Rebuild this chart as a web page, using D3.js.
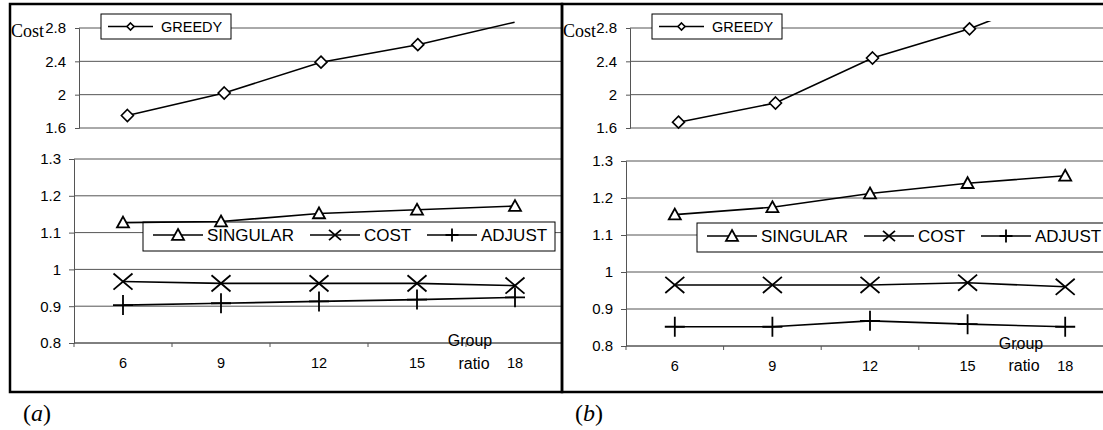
<!DOCTYPE html>
<meta charset="utf-8">
<script src="https://d3js.org/d3.v7.min.js"></script>
<style>
  body { margin: 0; background: #fff; }
  text { fill: #000; }
  .sans { font-family: "Liberation Sans", Arial, sans-serif; }
  .serif { font-family: "Liberation Serif", "Times New Roman", serif; }
</style>
<div id="chart"></div>
<script>
// values
var groupRatio = [6, 9, 12, 15, 18];

var greedyA   = [1.75, 2.02, 2.39, 2.6, 2.87];
var singularA = [1.127, 1.13, 1.152, 1.162, 1.172];
var costA     = [0.967, 0.962, 0.962, 0.962, 0.956];
var adjustA   = [0.903, 0.908, 0.913, 0.918, 0.924];

var greedyB   = [1.67, 1.9, 2.44, 2.79, 3.25];
var singularB = [1.155, 1.175, 1.212, 1.24, 1.26];
var costB     = [0.965, 0.965, 0.965, 0.971, 0.96];
var adjustB   = [0.852, 0.852, 0.868, 0.859, 0.852];

var topTicks = [1.6, 2, 2.4, 2.8];
var bottomTicks = [0.8, 0.9, 1, 1.1, 1.2, 1.3];
var panelLabels = ["a", "b"];

var W = 1103, H = 430;
var svg = d3.select("#chart").append("svg")
    .attr("width", W)
    .attr("height", H);

// marker shapes, s = size in px
function marker(type, s) {
  var h = s / 2;
  if (type == "diamond") return "M0," + (-h) + "L" + h + ",0L0," + h + "L" + (-h) + ",0Z";
  if (type == "triangle") return "M0," + (-h) + "L" + h + "," + (h * 0.8) + "L" + (-h) + "," + (h * 0.8) + "Z";
  if (type == "x") return "M" + (-h) + "," + (-h * 0.85) + "L" + h + "," + (h * 0.85) +
                          "M" + (-h) + "," + (h * 0.85) + "L" + h + "," + (-h * 0.85);
  return "M0," + (-h) + "V" + h + "M" + (-h) + ",0H" + h;
}

var panels = [
  { left: 10, right: 562, label: panelLabels[0],
    greedy: greedyA, series: [singularA, costA, adjustA],
    topX: [79, 563], botX: [74, 564], botY: [343, 159],
    greedyBox: 101, legendBox: [143, 555], legendY: 222,
    group: [470, 346], ratio: [474, 369], xLabelY: 368 },
  { left: 562, right: 1112, label: panelLabels[1],
    greedy: greedyB, series: [singularB, costB, adjustB],
    topX: [630, 1115], botX: [626, 1114], botY: [346, 161],
    greedyBox: 652, legendBox: [697, 1120], legendY: 223,
    group: [1021, 349], ratio: [1024, 371], xLabelY: 371 }
];

var seriesNames = ["SINGULAR", "COST", "ADJUST"];
var seriesMarkers = ["triangle", "x", "plus"];
var markerSize = { diamond: 12, triangle: 12, x: 19, plus: 20 };
var legendMarkerSize = { diamond: 7, triangle: 12, x: 12, plus: 13 };
var gridColor = "#555";

panels.forEach(function(p, pi) {
  var clipId = "clip" + pi;
  svg.append("clipPath").attr("id", clipId)
    .append("rect")
      .attr("x", p.left).attr("y", 4)
      .attr("width", p.right - p.left).attr("height", 388);

  var g = svg.append("g").attr("clip-path", "url(#" + clipId + ")");

  // ---------- top chart (GREEDY) ----------
  var xTop = d3.scaleBand().domain(groupRatio).range(p.topX);
  var yTop = d3.scaleLinear().domain([1.6, 2.8]).range([128, 28]);

  g.selectAll(".gridTop")
    .data(topTicks)
    .enter().append("line")
      .attr("x1", p.topX[0]).attr("x2", p.right)
      .attr("y1", d => yTop(d)).attr("y2", d => yTop(d))
      .attr("stroke", gridColor).attr("stroke-width", 1);

  var axTop = g.append("g")
      .attr("transform", "translate(" + p.topX[0] + ",0)")
      .call(d3.axisLeft(yTop).tickValues(topTicks).tickSize(4).tickPadding(9).tickFormat(d => d));
  axTop.attr("font-family", null);
  axTop.select(".domain").attr("stroke", gridColor);
  axTop.selectAll(".tick line").attr("stroke", gridColor);
  axTop.selectAll("text").attr("class", "sans").style("font-size", "15px");

  g.append("text")
      .attr("class", "serif")
      .attr("x", p.left + 1).attr("y", 37)
      .style("font-size", "18px")
      .text("Cost");

  var topClip = "clipTop" + pi;
  svg.append("clipPath").attr("id", topClip)
    .append("rect")
      .attr("x", p.topX[0]).attr("y", 21)
      .attr("width", p.right - p.topX[0]).attr("height", 120);

  var gTop = g.append("g").attr("clip-path", "url(#" + topClip + ")");
  var lineTop = d3.line()
      .x((d, i) => xTop(groupRatio[i]) + xTop.bandwidth() / 2)
      .y(d => yTop(d));
  gTop.append("path")
      .attr("d", lineTop(p.greedy))
      .attr("fill", "none").attr("stroke", "#000").attr("stroke-width", 1.6);
  gTop.selectAll(".dia")
    .data(p.greedy.filter(d => d <= 2.8))
    .enter().append("path")
      .attr("transform", (d, i) => "translate(" + (xTop(groupRatio[i]) + xTop.bandwidth() / 2) + "," + yTop(d) + ")")
      .attr("d", marker("diamond", markerSize.diamond))
      .attr("fill", "#fff").attr("stroke", "#000").attr("stroke-width", 1.6);

  // GREEDY legend
  var lg = g.append("g").attr("transform", "translate(" + p.greedyBox + ",14)");
  lg.append("rect").attr("width", 130).attr("height", 25)
      .attr("fill", "#fff").attr("stroke", "#000").attr("stroke-width", 1);
  lg.append("line").attr("x1", 7).attr("x2", 52).attr("y1", 12.5).attr("y2", 12.5)
      .attr("stroke", "#000").attr("stroke-width", 1.6);
  lg.append("path").attr("transform", "translate(29.5,12.5)")
      .attr("d", marker("diamond", legendMarkerSize.diamond))
      .attr("fill", "#fff").attr("stroke", "#000").attr("stroke-width", 1.6);
  lg.append("text").attr("class", "sans").attr("x", 60).attr("y", 18)
      .style("font-size", "14.5px").text("GREEDY");

  // ---------- bottom chart ----------
  var xBot = d3.scaleBand().domain(groupRatio).range(p.botX);
  var yBot = d3.scaleLinear().domain([0.8, 1.3]).range(p.botY);

  g.selectAll(".gridBot")
    .data(bottomTicks)
    .enter().append("line")
      .attr("x1", p.botX[0]).attr("x2", p.right)
      .attr("y1", d => yBot(d)).attr("y2", d => yBot(d))
      .attr("stroke", d => d == 0.8 ? "#000" : gridColor).attr("stroke-width", 1);

  var axBot = g.append("g")
      .attr("transform", "translate(" + p.botX[0] + ",0)")
      .call(d3.axisLeft(yBot).tickValues(bottomTicks).tickSize(5).tickPadding(8).tickFormat(d => d));
  axBot.attr("font-family", null);
  axBot.select(".domain").attr("stroke", gridColor);
  axBot.selectAll(".tick line").attr("stroke", gridColor);
  axBot.selectAll("text").attr("class", "sans").style("font-size", "15px");

  // x axis: tick marks on band edges, labels at centres
  var bandEdges = groupRatio.map(d => xBot(d));
  g.selectAll(".xtick")
    .data(bandEdges)
    .enter().append("line")
      .attr("x1", d => d).attr("x2", d => d)
      .attr("y1", p.botY[0]).attr("y2", p.botY[0] + 4)
      .attr("stroke", gridColor);
  g.selectAll(".xlab")
    .data(groupRatio)
    .enter().append("text")
      .attr("class", "sans")
      .attr("x", d => xBot(d) + xBot.bandwidth() / 2)
      .attr("y", p.xLabelY)
      .attr("text-anchor", "middle")
      .style("font-size", "14.5px")
      .text(d => d);

  var lineBot = d3.line()
      .x((d, i) => xBot(groupRatio[i]) + xBot.bandwidth() / 2)
      .y(d => yBot(d));

  // legend box sits under the series lines
  var lb = g.append("g").attr("transform", "translate(" + p.legendBox[0] + "," + p.legendY + ")");
  lb.append("rect").attr("width", p.legendBox[1] - p.legendBox[0]).attr("height", 29)
      .attr("fill", "#fff").attr("stroke", "#000").attr("stroke-width", 1);
  var legendOffsets = [10, 167, 284];
  seriesNames.forEach(function(name, si) {
    var ox = legendOffsets[si];
    lb.append("line").attr("x1", ox).attr("x2", ox + 50).attr("y1", 13).attr("y2", 13)
        .attr("stroke", "#000").attr("stroke-width", 1.6);
    lb.append("path").attr("transform", "translate(" + (ox + 25) + ",13)")
        .attr("d", marker(seriesMarkers[si], legendMarkerSize[seriesMarkers[si]]))
        .attr("fill", "#fff").attr("stroke", "#000").attr("stroke-width", 1.8);
    lb.append("text").attr("class", "sans").attr("x", ox + 54).attr("y", 19)
        .style("font-size", "17px").text(name);
  });

  p.series.forEach(function(vals, si) {
    g.append("path")
        .attr("d", lineBot(vals))
        .attr("fill", "none").attr("stroke", "#000").attr("stroke-width", 1.6);
    g.selectAll(".m" + si)
      .data(vals)
      .enter().append("path")
        .attr("transform", (d, i) => "translate(" + (xBot(groupRatio[i]) + xBot.bandwidth() / 2) + "," + yBot(d) + ")")
        .attr("d", marker(seriesMarkers[si], markerSize[seriesMarkers[si]]))
        .attr("fill", "#fff").attr("stroke", "#000").attr("stroke-width", 1.8);
  });

  g.append("text").attr("class", "sans").attr("x", p.group[0]).attr("y", p.group[1])
      .attr("text-anchor", "middle").style("font-size", "16px").text("Group");
  g.append("text").attr("class", "sans").attr("x", p.ratio[0]).attr("y", p.ratio[1])
      .attr("text-anchor", "middle").style("font-size", "16px").text("ratio");

  // panel border
  svg.append("rect")
      .attr("x", p.left).attr("y", 4)
      .attr("width", p.right - p.left).attr("height", 388)
      .attr("fill", "none").attr("stroke", "#000").attr("stroke-width", 2.5);

  // (a) / (b)
  var t = svg.append("text")
      .attr("class", "serif")
      .attr("x", p.left + 13).attr("y", 421)
      .style("font-size", "24px");
  t.append("tspan").text("(");
  t.append("tspan").style("font-style", "italic").text(p.label);
  t.append("tspan").text(")");
});
</script>
